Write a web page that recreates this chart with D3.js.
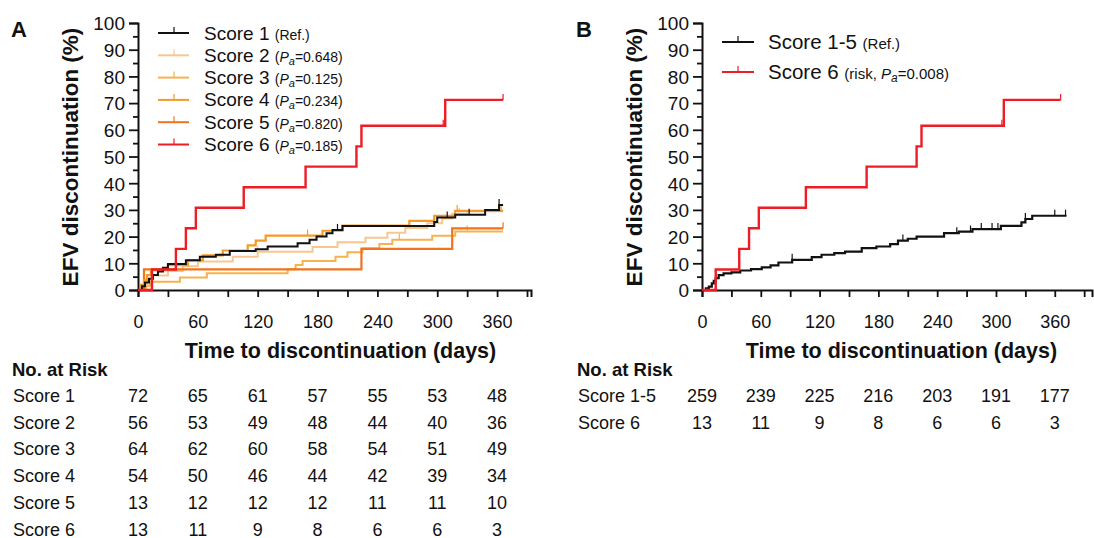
<!DOCTYPE html>
<html><head><meta charset="utf-8">
<script src="https://cdn.jsdelivr.net/npm/d3@7"></script>
<style>
html,body{margin:0;padding:0;background:#fff;}
text{font-family:"Liberation Sans",Arial,sans-serif;fill:#111;}
</style></head>
<body><svg id="c" width="1094" height="538"></svg>
<script>
// ---------- data ----------
const riskTimes = [0, 60, 120, 180, 240, 300, 360];
const xTicks = [0,30,60,90,120,150,180,210,240,270,300,330,360,390];
const xLabels = [0,60,120,180,240,300,360];
const yTicks = [0,10,20,30,40,50,60,70,80,90,100];
const endDay = 366;

// Panel A (day, % discontinued) step points
const score1A = [[0,0],[4,1.4],[7,2.8],[11,4.2],[15,5.6],[20,6.9],[25,8.3],[30,9.7],[48,11.1],[62,12.5],[78,13.2],[92,14.6],[118,15.3],[130,16.3],[160,17.5],[172,18.8],[179,20],[189,21.3],[195,22.5],[205,24],[297,25.5],[300,27.2],[318,28.2],[348,30],[362,31.8]];
const score2A = [[0,0],[4,1.8],[9,3.6],[14,5.4],[30,7.1],[45,8.9],[60,10.7],[95,12.5],[120,14.3],[175,16.1],[200,17.9],[228,19.6],[250,21.4],[268,23.2],[290,25],[305,26.8],[315,28.6],[330,29.5]];
const score3A = [[0,0],[8,1.6],[12,3.1],[42,4.7],[69,6.3],[150,7.8],[158,9.4],[165,10.9],[198,12.5],[210,14.1],[225,15.6],[242,17.2],[255,18.8],[295,20.3],[318,21.9]];
const score4A = [[0,0],[3,1.9],[6,3.7],[9,5.6],[13,7.4],[30,9.3],[50,11.1],[65,13],[85,14.8],[110,16.7],[118,18.5],[128,20.4],[185,22.2],[205,24.1],[272,25.9],[297,27.8],[318,29.6]];
const score5A = [[0,0],[6,7.7],[224,15.4],[315,23.1]];
const score6A = [[0,0],[14,7.7],[38,15.4],[48,23.1],[58,30.8],[106,38.5],[168,46.2],[219,53.8],[224,61.5],[308,71.2]];

// censor marks (days)
const cens1A = [200, 310, 332, 362];
const cens2A = [120, 322];
const cens3A = [262, 330];
const cens4A = [170, 320, 364];
const cens5A = [366];
const cens6A = [306, 366];

// Panel B
const score15B = [[0,0],[4,0.6],[7,1.3],[10,2.5],[12,3.4],[14,4.4],[17,5.6],[22,6.2],[30,6.6],[39,7.3],[50,7.8],[61,8.5],[70,9.2],[78,10.3],[92,11.3],[112,12.3],[122,13.2],[135,13.8],[146,14.4],[163,15.7],[178,16.3],[192,17.2],[200,18.5],[210,19.2],[219,20],[247,21.3],[262,21.9],[276,22.8],[305,24],[326,25.3],[330,26.6],[337,27.8]];
const score6B = score6A;
const cens15B = [92, 205, 260, 274, 285, 296, 302, 330, 360, 371];
const cens6B = [306, 366];

// risk tables
const riskLabelsA = ["Score 1","Score 2","Score 3","Score 4","Score 5","Score 6"];
const riskA = [[72,65,61,57,55,53,48],[56,53,49,48,44,40,36],[64,62,60,58,54,51,49],[54,50,46,44,42,39,34],[13,12,12,12,11,11,10],[13,11,9,8,6,6,3]];
const riskLabelsB = ["Score 1-5","Score 6"];
const riskB = [[259,239,225,216,203,191,177],[13,11,9,8,6,6,3]];

// legends
const legendNamesA = ["Score 1","Score 2","Score 3","Score 4","Score 5","Score 6"];
const legendPA = [null,"0.648","0.125","0.234","0.820","0.185"];
const colorsA = ["#111111","#f9c690","#f8b14c","#f59a26","#f0741e","#ee1c25"];
const colorsB = ["#111111","#ee1c25"];
const legendNamesB = ["Score 1-5","Score 6"];

// ---------- drawing ----------
const svg = d3.select("#c");

function panel(opt){
  const g = svg.append("g");
  const x = d3.scaleLinear().domain([0, opt.xMax]).range([opt.x0, opt.x1]);
  const y = d3.scaleLinear().domain([0,100]).range([290, 23]);

  // y axis
  const yMajor = d3.axisLeft(y).tickValues(yTicks).tickSize(9).tickPadding(4).tickFormat(d3.format("d"));
  const ya = g.append("g").attr("transform",`translate(${opt.x0},0)`).call(yMajor);
  ya.selectAll("text").style("font-size","19px").attr("dy","0.36em");
  const yMinor = d3.axisLeft(y).tickValues(d3.range(5,100,10)).tickSize(5).tickFormat("");
  g.append("g").attr("transform",`translate(${opt.x0},0)`).call(yMinor).select(".domain").remove();

  // x axis
  const xa = d3.axisBottom(x).tickValues(xTicks).tickSize(7).tickPadding(18)
    .tickFormat(d => xLabels.includes(d) ? d : "");
  const xg = g.append("g").attr("transform","translate(0,290)").call(xa);
  xg.selectAll("text").style("font-size","18px");
  g.selectAll(".domain").attr("stroke","#111").attr("stroke-width",2);
  g.selectAll(".tick line").attr("stroke","#111").attr("stroke-width",1.8);

  // titles
  g.append("text").attr("transform",`translate(${opt.ytx},157) rotate(-90)`)
    .attr("text-anchor","middle").style("font-size","22.5px").style("font-weight","bold")
    .text("EFV discontinuation (%)");
  g.append("text").attr("x", (x(0)+x(360))/2 + 23).attr("y",358)
    .attr("text-anchor","middle").style("font-size","21.5px").style("font-weight","bold")
    .text("Time to discontinuation (days)");
  g.append("text").attr("x",opt.labX).attr("y",37).style("font-size","22px").style("font-weight","bold").text(opt.label);

  // curves
  const line = d3.line().x(d=>x(d[0])).y(d=>y(d[1])).curve(d3.curveStepAfter);
  opt.series.forEach((s,i)=>{
    const pts = s.data.concat([[s.end, s.data[s.data.length-1][1]]]);
    g.append("path").datum(pts).attr("d",line).attr("fill","none")
      .attr("stroke",s.color).attr("stroke-width",s.w).attr("stroke-linejoin","miter");
    const valAt = t => { let v=0; s.data.forEach(p=>{ if(p[0]<=t) v=p[1]; }); return v; };
    g.selectAll(null).data(s.cens).enter().append("line")
      .attr("x1",d=>x(d)).attr("x2",d=>x(d))
      .attr("y1",d=>y(valAt(d))).attr("y2",d=>y(valAt(d))-6)
      .attr("stroke",s.color).attr("stroke-width",1.2);
  });

  // risk table
  g.append("text").attr("x",opt.tabX).attr("y",376).style("font-size","18.5px").style("font-weight","bold").text("No. at Risk");
  opt.riskLabels.forEach((lab,r)=>{
    const yy = 402 + r*26.7;
    g.append("text").attr("x",opt.tabX+1).attr("y",yy).style("font-size","18px").text(lab);
    g.selectAll(null).data(opt.risk[r]).enter().append("text")
      .attr("x",(d,i)=>x(riskTimes[i])).attr("y",yy).attr("text-anchor","middle")
      .style("font-size","18px").text(d=>d);
  });
  return {g,x,y};
}

panel({
  x0:138, x1:531, xMax:394, ytx:78, labX:11, label:"A", tabX:12,
  series:[
    {data:score2A,color:colorsA[1],w:2,cens:cens2A,end:endDay},
    {data:score3A,color:colorsA[2],w:2,cens:cens3A,end:endDay},
    {data:score5A,color:colorsA[4],w:2.2,cens:cens5A,end:endDay},
    {data:score4A,color:colorsA[3],w:2.2,cens:cens4A,end:endDay},
    {data:score1A,color:colorsA[0],w:2,cens:cens1A,end:endDay},
    {data:score6A,color:colorsA[5],w:2.4,cens:cens6A,end:endDay}
  ],
  riskLabels:riskLabelsA, risk:riskA
});

panel({
  x0:702, x1:1092, xMax:398, ytx:642, labX:576, label:"B", tabX:577,
  series:[
    {data:score15B,color:colorsB[0],w:2.2,cens:cens15B,end:372},
    {data:score6B,color:colorsB[1],w:2.4,cens:cens6B,end:endDay}
  ],
  riskLabels:riskLabelsB, risk:riskB
});

// legend A
legendNamesA.forEach((n,i)=>{
  const yy = 33 + i*22.3;
  svg.append("line").attr("x1",158).attr("x2",189).attr("y1",yy).attr("y2",yy)
    .attr("stroke",colorsA[i]).attr("stroke-width",2);
  svg.append("line").attr("x1",174).attr("x2",174).attr("y1",yy).attr("y2",yy-6)
    .attr("stroke",colorsA[i]).attr("stroke-width",1.2);
  const t = svg.append("text").attr("x",204).attr("y",yy+6.5).style("font-size","19px");
  t.append("tspan").text(n+" ");
  if(legendPA[i]===null){
    t.append("tspan").style("font-size","14px").text("(Ref.)");
  } else {
    t.append("tspan").style("font-size","14px").text("(");
    t.append("tspan").style("font-size","14px").style("font-style","italic").text("P");
    t.append("tspan").style("font-size","11px").style("font-style","italic").attr("dy",3).text("a");
    t.append("tspan").style("font-size","14px").attr("dy",-3).text("="+legendPA[i]+")");
  }
});

// legend B
legendNamesB.forEach((n,i)=>{
  const yy = 42 + i*30;
  svg.append("line").attr("x1",722).attr("x2",754).attr("y1",yy).attr("y2",yy)
    .attr("stroke",colorsB[i]).attr("stroke-width",2);
  svg.append("line").attr("x1",738).attr("x2",738).attr("y1",yy).attr("y2",yy-6)
    .attr("stroke",colorsB[i]).attr("stroke-width",1.2);
  const t = svg.append("text").attr("x",768).attr("y",yy+7).style("font-size","20.5px");
  t.append("tspan").text(n+" ");
  if(i===0){
    t.append("tspan").style("font-size","15px").text("(Ref.)");
  } else {
    t.append("tspan").style("font-size","15px").text("(risk, ");
    t.append("tspan").style("font-size","15px").style("font-style","italic").text("P");
    t.append("tspan").style("font-size","12px").style("font-style","italic").attr("dy",3).text("a");
    t.append("tspan").style("font-size","15px").attr("dy",-3).text("=0.008)");
  }
});
</script></body></html>
